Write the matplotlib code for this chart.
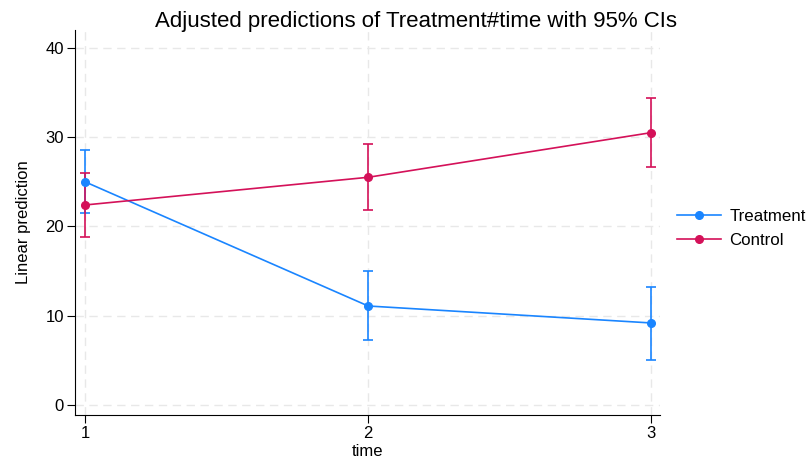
import numpy as np
from matplotlib import pyplot as plt

plt.rcParams['font.family'] = ['Liberation Sans', 'DejaVu Sans']

time = [1, 2, 3]
treat_mean = [25.0, 11.1, 9.2]
treat_lo = [21.5, 7.3, 5.1]
treat_hi = [28.6, 15.0, 13.2]
ctrl_mean = [22.4, 25.5, 30.5]
ctrl_lo = [18.8, 21.8, 26.6]
ctrl_hi = [26.0, 29.2, 34.4]

blue = "#1a85ff"
red = "#d41159"

fig = plt.figure(figsize=(8.09, 4.66), dpi=100)
ax = fig.add_axes([0.0927, 0.109, 0.723, 0.827])

for mean, lo, hi, col, lab in [(treat_mean, treat_lo, treat_hi, blue, "Treatment"),
                               (ctrl_mean, ctrl_lo, ctrl_hi, red, "Control")]:
	mean = np.array(mean)
	err = [mean - np.array(lo), np.array(hi) - mean]
	ax.errorbar(time, mean, yerr=err, fmt="none", ecolor=col, elinewidth=1.2,
		capsize=3.5, capthick=1.2, zorder=3)
	ax.plot(time, mean, color=col, lw=1.2, marker="o", ms=5.5, label=lab, zorder=4)

ax.set_xlim(0.965, 3.03)
ax.set_ylim(-1.12, 42.0)
ax.set_xticks(time)
ax.set_yticks([0, 10, 20, 30, 40])
ax.grid(True, color="#e8e8e8", ls=(0, (6, 4)), lw=1.0, zorder=0)
ax.spines["top"].set_visible(False)
ax.spines["right"].set_visible(False)
ax.tick_params(labelsize=12, length=6, pad=2)
ax.set_xlabel("time", fontsize=12, labelpad=2)
ax.set_ylabel("Linear prediction", fontsize=12, labelpad=10)
fig.text(0.514, 0.953, "Adjusted predictions of Treatment#time with 95% CIs",
	fontsize=16, ha="center", va="center")
ax.legend(loc="center left", bbox_to_anchor=(1.0, 0.485), frameon=False, fontsize=12.2,
	handlelength=2.6, handletextpad=0.5, borderaxespad=0.6, labelspacing=0.55)

fig.savefig("out.png", dpi=100)
